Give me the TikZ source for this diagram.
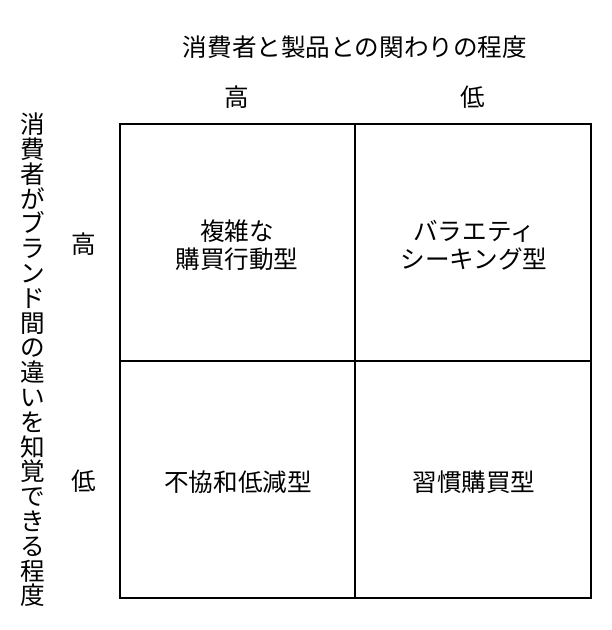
\documentclass[tikz,border=0pt]{standalone}
\usepackage{fontspec}
\setmainfont{Noto Sans CJK JP}
\begin{document}
\begin{tikzpicture}[x=1bp,y=-1bp,
  lbl/.style={inner sep=0pt,align=center,font=\fontsize{24.6bp}{28bp}\selectfont},
  vlbl/.style={inner sep=0pt,align=center,font=\fontsize{24.6bp}{24.8bp}\selectfont},
  gridline/.style={line width=1.8bp,black}]
\useasboundingbox (0,0) rectangle (612,630);
\fill[white] (0,0) rectangle (612,630);
\coordinate (tl) at (120,124);
\coordinate (br) at (591,598);
\coordinate (mt) at (355,124);
\coordinate (mb) at (355,598);
\coordinate (ml) at (120,361);
\coordinate (mr) at (591,361);
\draw[gridline] (tl) rectangle (br);
\draw[gridline] (mt) -- (mb);
\draw[gridline] (ml) -- (mr);
\node[lbl] (title) at (355,47) {消費者と製品との関わりの程度};
\node[lbl] (chigh) at (237,97) {高};
\node[lbl] (clow) at (473,97) {低};
\node[lbl] (rhigh) at (84,244) {高};
\node[lbl] (rlow) at (84,481) {低};
\node[vlbl] (ylabel) at (33,360) {消\\費\\者\\が\\ブ\\ラ\\ン\\ド\\間\\の\\違\\い\\を\\知\\覚\\で\\き\\る\\程\\度};
\node[lbl] (c11) at (237,245) {複雑な\\購買行動型};
\node[lbl] (c12) at (474,245) {バラエティ\\シーキング型};
\node[lbl] (c21) at (238,482) {不協和低減型};
\node[lbl] (c22) at (474,482) {習慣購買型};
\end{tikzpicture}
\end{document}
